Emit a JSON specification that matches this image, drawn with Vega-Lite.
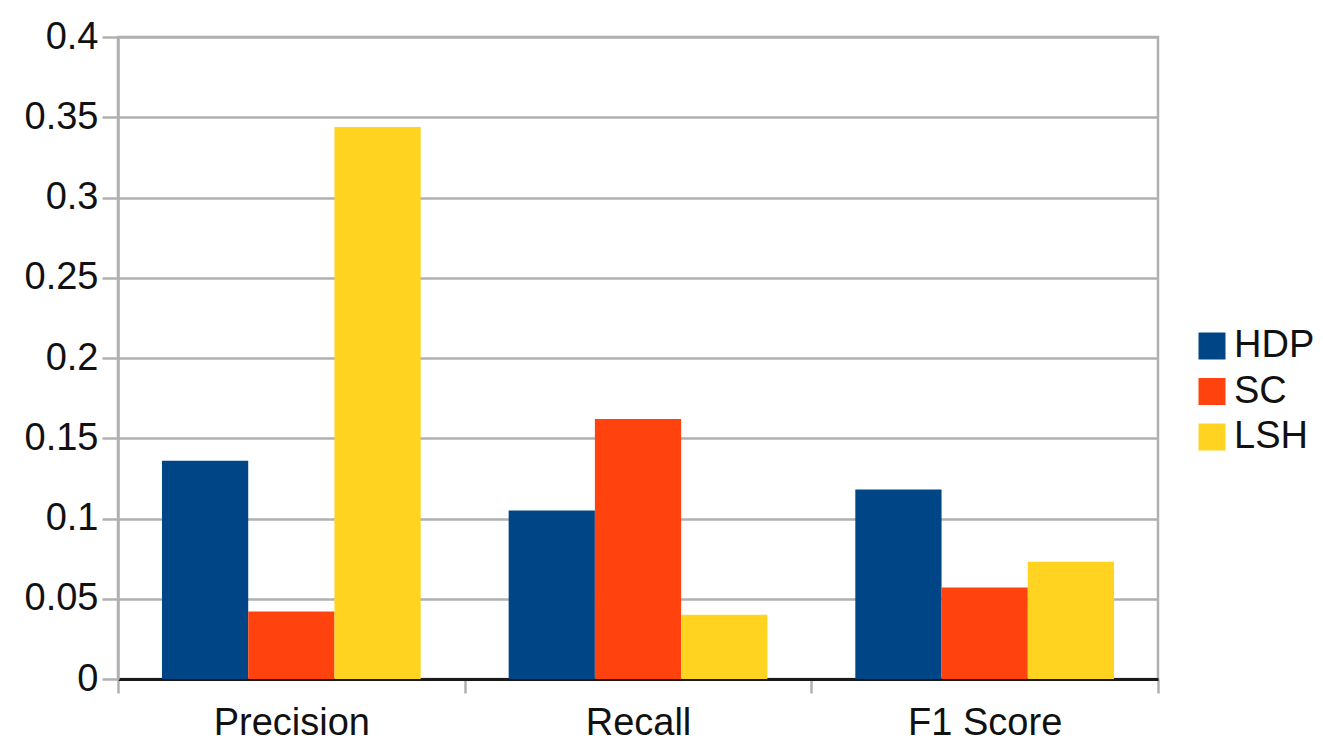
{
  "$schema": "https://vega.github.io/schema/vega-lite/v6.json",
  "autosize": "none",
  "width": 1040,
  "height": 642,
  "padding": {"left": 118, "top": 37, "right": 165, "bottom": 63},
  "background": "white",
  "config": {
    "font": "Liberation Sans",
    "view": {"stroke": "#b0b0b0", "strokeWidth": 2.5}
  },
  "data": {
    "values": [
      {"metric": "Precision", "method": "HDP", "value": 0.136},
      {"metric": "Precision", "method": "SC", "value": 0.042},
      {"metric": "Precision", "method": "LSH", "value": 0.344},
      {"metric": "Recall", "method": "HDP", "value": 0.105},
      {"metric": "Recall", "method": "SC", "value": 0.162},
      {"metric": "Recall", "method": "LSH", "value": 0.040},
      {"metric": "F1 Score", "method": "HDP", "value": 0.118},
      {"metric": "F1 Score", "method": "SC", "value": 0.057},
      {"metric": "F1 Score", "method": "LSH", "value": 0.073}
    ]
  },
  "mark": {"type": "bar", "strokeWidth": 0},
  "encoding": {
    "x": {
      "field": "metric",
      "type": "nominal",
      "sort": ["Precision", "Recall", "F1 Score"],
      "scale": {"paddingInner": 0, "paddingOuter": 0},
      "axis": {
        "title": null,
        "labelAngle": 0,
        "labelFontSize": 38,
        "labelColor": "#111111",
        "labelPadding": 11,
        "tickBand": "extent",
        "tickSize": 14,
        "tickColor": "#b0b0b0",
        "tickWidth": 2.5,
        "domainColor": "#1a1a1a",
        "domainWidth": 3,
        "grid": false
      }
    },
    "xOffset": {
      "field": "method",
      "type": "nominal",
      "sort": ["HDP", "SC", "LSH"],
      "scale": {"paddingInner": 0, "paddingOuter": 0.51}
    },
    "y": {
      "field": "value",
      "type": "quantitative",
      "scale": {"domain": [0, 0.4], "nice": false},
      "axis": {
        "title": null,
        "values": [0, 0.05, 0.1, 0.15, 0.2, 0.25, 0.3, 0.35, 0.4],
        "format": "~g",
        "labelFontSize": 38,
        "labelColor": "#111111",
        "labelPadding": 4,
        "tickSize": 16,
        "tickColor": "#b0b0b0",
        "tickWidth": 2.5,
        "domainColor": "#b0b0b0",
        "domainWidth": 2.5,
        "gridColor": "#b0b0b0",
        "gridWidth": 2.5,
        "gridOpacity": 1
      }
    },
    "color": {
      "field": "method",
      "type": "nominal",
      "sort": ["HDP", "SC", "LSH"],
      "scale": {"domain": ["HDP", "SC", "LSH"], "range": ["#004586", "#ff420e", "#ffd320"]},
      "legend": {
        "title": null,
        "orient": "none",
        "legendX": 1075,
        "legendY": 290,
        "padding": 0,
        "symbolType": "square",
        "symbolSize": 729,
        "symbolStrokeWidth": 0,
        "symbolOpacity": 1,
        "labelFontSize": 38,
        "labelColor": "#111111",
        "labelOffset": 3,
        "rowPadding": 7.5
      }
    }
  }
}
